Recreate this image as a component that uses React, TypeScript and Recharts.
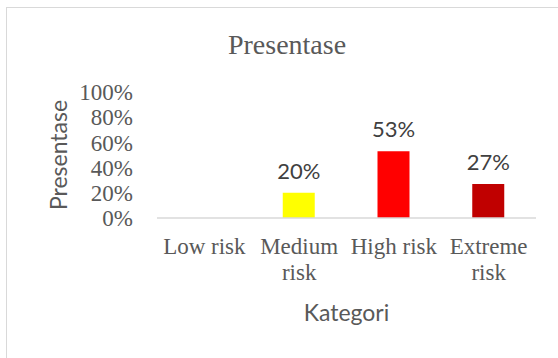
import { BarChart, Bar, XAxis, YAxis, Cell, LabelList } from "recharts";

const categories = ["Low risk", "Medium risk", "High risk", "Extreme risk"];
const values = [0, 0.2, 0.53, 0.27];
const barColors = ["#4472C4", "#FFFF00", "#FF0000", "#C00000"];
const yTicks = [0, 0.2, 0.4, 0.6, 0.8, 1];

const data = categories.map((name, i) => ({ name, value: values[i] }));

const serif = "'Liberation Serif', 'Times New Roman', serif";
const sans = "Lato, 'Noto Sans', sans-serif";
const grey = "#595959";

const pct = (v: number) => `${Math.round(v * 100)}%`;

// word wrap a label to a max pixel width, measured on a canvas
const ctx = document.createElement("canvas").getContext("2d")!;
function wrap(label: string, font: string, maxWidth: number) {
  ctx.font = font;
  const lines: string[] = [];
  let cur = "";
  for (const w of label.split(" ")) {
    const next = cur ? cur + " " + w : w;
    if (cur && ctx.measureText(next).width > maxWidth) {
      lines.push(cur);
      cur = w;
    } else cur = next;
  }
  if (cur) lines.push(cur);
  return lines;
}

function CategoryTick(props: any) {
  const { x, y, payload } = props;
  const lines = wrap(payload.value, `23px ${serif}`, 94);
  return (
    <text
      x={x}
      y={y}
      textAnchor="middle"
      fontFamily={serif}
      fontSize={23}
      fill={grey}
    >
      {lines.map((l, i) => (
        <tspan key={i} x={x} dy={i === 0 ? "0.71em" : 26}>
          {l}
        </tspan>
      ))}
    </text>
  );
}

export default function App() {
  return (
    <div
      style={{
        position: "absolute",
        left: 0,
        top: 0,
        width: 558,
        height: 358,
        overflow: "hidden",
        background: "#fff",
      }}
    >
      <div
        style={{
          position: "absolute",
          left: 6,
          top: 7,
          width: 600,
          height: 400,
          border: "1px solid #d9d9d9",
        }}
      />
      <div
        style={{
          position: "absolute",
          left: 0,
          top: 29,
          width: 558,
          textAlign: "center",
          paddingLeft: 16,
          boxSizing: "border-box",
          fontFamily: serif,
          fontSize: 28,
          color: grey,
        }}
      >
        Presentase
      </div>
      <BarChart
        width={558}
        height={358}
        data={data}
        margin={{ top: 92, right: 22, left: 0, bottom: 20 }}
        barSize={32}
        style={{ position: "absolute", left: 0, top: 0 }}
      >
        <XAxis
          dataKey="name"
          height={120}
          tick={<CategoryTick />}
          tickLine={false}
          tickMargin={14}
          axisLine={{ stroke: "#d9d9d9", strokeWidth: 1.5 }}
          interval={0}
          label={{
            value: "Kategori",
            position: "insideTop",
            offset: 87,
            fontFamily: sans,
            fontSize: 23,
            fill: grey,
          }}
        />
        <YAxis
          width={157}
          domain={[0, 1]}
          ticks={yTicks}
          interval={0}
          tickFormatter={pct}
          axisLine={false}
          tickLine={false}
          tickMargin={18}
          tick={{ fontFamily: serif, fontSize: 23, fill: grey }}
          label={{
            value: "Presentase",
            angle: -90,
            position: "insideLeft",
            offset: 59,
            fontFamily: sans,
            fontSize: 23,
            fill: grey,
            style: { textAnchor: "middle" },
          }}
        />
        <Bar dataKey="value" isAnimationActive={false}>
          {data.map((d, i) => (
            <Cell key={d.name} fill={barColors[i]} />
          ))}
          <LabelList
            dataKey="value"
            position="top"
            offset={14}
            formatter={(v: any) => (v > 0 ? pct(v) : "")}
            style={{ fontFamily: sans, fontSize: 22, fill: "#404040" }}
          />
        </Bar>
      </BarChart>
    </div>
  );
}
